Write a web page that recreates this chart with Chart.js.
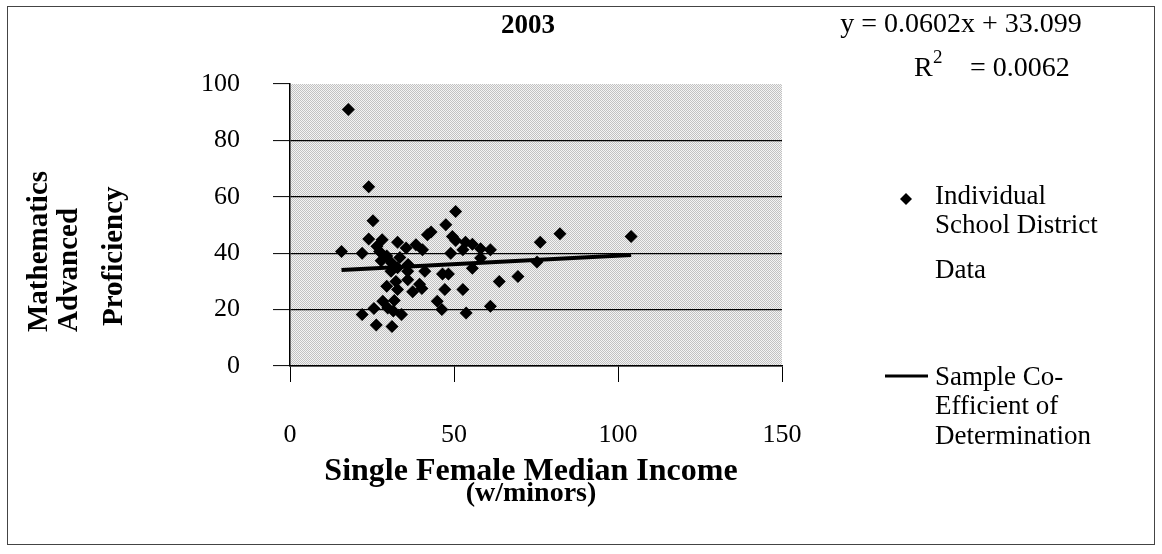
<!DOCTYPE html>
<html>
<head>
<meta charset="utf-8">
<script src="https://cdn.jsdelivr.net/npm/chart.js@4.4.1/dist/chart.umd.min.js"></script>
<style>
  html, body { margin: 0; padding: 0; background: #fff; }
  #wrap { width: 1162px; height: 554px; position: relative; }
</style>
</head>
<body>
<div id="wrap"><canvas id="myChart" width="1162" height="554"></canvas></div>
<script>
// --- data ---
var incomeX = [15.7, 17.8, 24.0, 25.3, 22.0, 24.0, 28.1, 27.3, 26.5, 27.8,
               29.5, 31.0, 32.8, 33.5, 35.4, 38.4, 40.4, 41.9, 43.0, 47.5,
               50.5, 49.5, 50.5, 49.0, 53.5, 55.6, 58.1, 61.1, 52.7, 58.1,
               55.6, 30.8, 32.8, 35.9, 41.1, 46.5, 48.3, 29.5, 32.3, 35.9,
               37.4, 40.2, 32.8, 47.2, 52.7, 31.8, 44.9, 46.3, 22.0, 25.6,
               28.3, 29.8, 31.5, 34.0, 26.3, 31.1, 53.7, 61.1, 63.8, 69.5,
               75.3, 76.3, 82.3, 104.0, 36.0, 39.5];
var proficiencyY = [40.6, 91.0, 63.6, 51.5, 40.0, 45.0, 44.8, 40.6, 42.5, 37.3,
                    39.0, 36.5, 43.9, 38.5, 41.8, 43.0, 41.2, 46.5, 47.5, 50.1,
                    54.8, 45.9, 44.5, 40.0, 43.9, 43.2, 41.6, 41.2, 41.2, 38.3,
                    34.7, 33.6, 34.8, 33.6, 33.6, 32.6, 32.6, 28.3, 30.0, 30.6,
                    26.3, 27.5, 27.1, 27.1, 27.1, 23.2, 23.0, 20.0, 18.3, 20.4,
                    23.0, 20.6, 19.5, 18.3, 14.5, 14.0, 18.8, 21.2, 30.0, 31.7,
                    36.9, 43.9, 46.9, 45.9, 36.0, 29.0];
var trendX = [15.7, 104.0];
var trendY = [34.0, 39.4];
var xTicks = [0, 50, 100, 150];
var yTicks = [0, 20, 40, 60, 80, 100];

var serif = '"Liberation Serif", "Times New Roman", serif';

// точковий фон області графіка (як растр друку)
function dotPattern(ctx) {
    var c = document.createElement('canvas');
    c.width = 2; c.height = 2;
    var p = c.getContext('2d');
    p.fillStyle = '#f4f4f4'; p.fillRect(0, 0, 2, 2);
    p.fillStyle = '#c2c2c2'; p.fillRect(0, 0, 1, 1); p.fillRect(1, 1, 1, 1);
    return ctx.createPattern(c, 'repeat');
}

const decor = {
    id: 'decor',
    beforeDraw(chart) {
        const ctx = chart.ctx, a = chart.chartArea;
        ctx.save();
        ctx.fillStyle = '#fff';
        ctx.fillRect(0, 0, chart.width, chart.height);
        ctx.fillStyle = dotPattern(ctx);
        ctx.fillRect(a.left, a.top, a.right - a.left, a.bottom - a.top);
        ctx.restore();
    },
    afterDraw(chart) {
        const ctx = chart.ctx;
        ctx.save();
        // зовнішня рамка
        ctx.strokeStyle = '#444';
        ctx.lineWidth = 1;
        ctx.strokeRect(7.5, 6.5, 1147, 538);

        ctx.fillStyle = '#000';
        ctx.textBaseline = 'middle';

        // заголовок
        ctx.textAlign = 'center';
        ctx.font = 'bold 27px ' + serif;
        ctx.fillText('2003', 528, 26);

        // підпис осі X
        ctx.font = 'bold 32px ' + serif;
        ctx.fillText('Single Female Median Income', 531, 472);
        ctx.font = 'bold 28px ' + serif;
        ctx.fillText('(w/minors)', 531, 494);

        // підпис осі Y (повернутий, рядки починаються знизу)
        ctx.font = 'bold 29px ' + serif;
        ctx.textAlign = 'left';
        [['Mathematics', 40, 332], ['Advanced', 70, 332], ['Proficiency', 115, 326]].forEach(function (l) {
            ctx.save();
            ctx.translate(l[1], l[2]);
            ctx.rotate(-Math.PI / 2);
            ctx.fillText(l[0], 0, 0);
            ctx.restore();
        });

        // рівняння + R^2
        ctx.font = '28px ' + serif;
        ctx.textAlign = 'center';
        ctx.fillText('y = 0.0602x + 33.099', 961, 25);
        ctx.textAlign = 'left';
        ctx.fillText('R', 914, 69);
        ctx.font = '19px ' + serif;
        ctx.fillText('2', 933, 58);
        ctx.font = '28px ' + serif;
        ctx.fillText('= 0.0062', 970, 69);

        // легенда
        ctx.beginPath();
        ctx.moveTo(906, 193); ctx.lineTo(912, 199); ctx.lineTo(906, 205); ctx.lineTo(900, 199);
        ctx.closePath(); ctx.fill();
        ctx.font = '27px ' + serif;
        ctx.fillText('Individual', 935, 197);
        ctx.fillText('School District', 935, 226);
        ctx.fillText('Data', 935, 271);

        ctx.lineWidth = 3;
        ctx.strokeStyle = '#000';
        ctx.beginPath(); ctx.moveTo(885, 376); ctx.lineTo(928, 376); ctx.stroke();
        ctx.fillText('Sample Co-', 935, 378);
        ctx.fillText('Efficient of', 935, 407);
        ctx.fillText('Determination', 935, 437);
        ctx.restore();
    }
};

function initChart() {
    const ctx = document.getElementById('myChart').getContext('2d');
    const points = incomeX.map((x, i) => ({ x: x, y: proficiencyY[i] }));
    const trend = trendX.map((x, i) => ({ x: x, y: trendY[i] }));

    new Chart(ctx, {
        type: 'scatter',
        data: {
            datasets: [{
                label: 'Individual School District Data',
                data: points,
                pointStyle: 'rectRot',
                pointRadius: 6.5,
                backgroundColor: '#000',
                borderColor: '#000',
                borderWidth: 0
            }, {
                type: 'line',
                label: 'Sample Co-Efficient of Determination',
                data: trend,
                borderColor: '#000',
                borderWidth: 4,
                pointRadius: 0,
                fill: false
            }]
        },
        options: {
            responsive: false,
            animation: false,
            devicePixelRatio: 1,
            layout: { autoPadding: false, padding: { left: 0, top: 84, right: 380, bottom: 0 } },
            plugins: { legend: { display: false }, tooltip: { enabled: false }, title: { display: false } },
            scales: {
                x: {
                    type: 'linear', min: 0, max: 150,
                    afterBuildTicks: (s) => { s.ticks = xTicks.map(v => ({ value: v })); },
                    afterFit: (s) => { s.height = 188; },
                    border: { display: true, color: '#000', width: 1.5 },
                    grid: { drawOnChartArea: false, drawTicks: true, tickLength: 16, tickColor: '#000', tickWidth: 1 },
                    ticks: { color: '#000', padding: 38, font: { family: serif, size: 26 } }
                },
                y: {
                    type: 'linear', min: 0, max: 100,
                    afterBuildTicks: (s) => { s.ticks = yTicks.map(v => ({ value: v })); },
                    afterFit: (s) => { s.width = 290; },
                    border: { display: true, color: '#000', width: 1.5 },
                    grid: {
                        color: (c) => (c.tick && c.tick.value === 100) ? 'rgba(0,0,0,0)' : '#000',
                        lineWidth: 1.2,
                        tickLength: 17, tickColor: '#000', tickWidth: 1
                    },
                    ticks: { color: '#000', padding: 33, font: { family: serif, size: 26 } }
                }
            }
        },
        plugins: [decor]
    });
}

initChart();
</script>
</body>
</html>
